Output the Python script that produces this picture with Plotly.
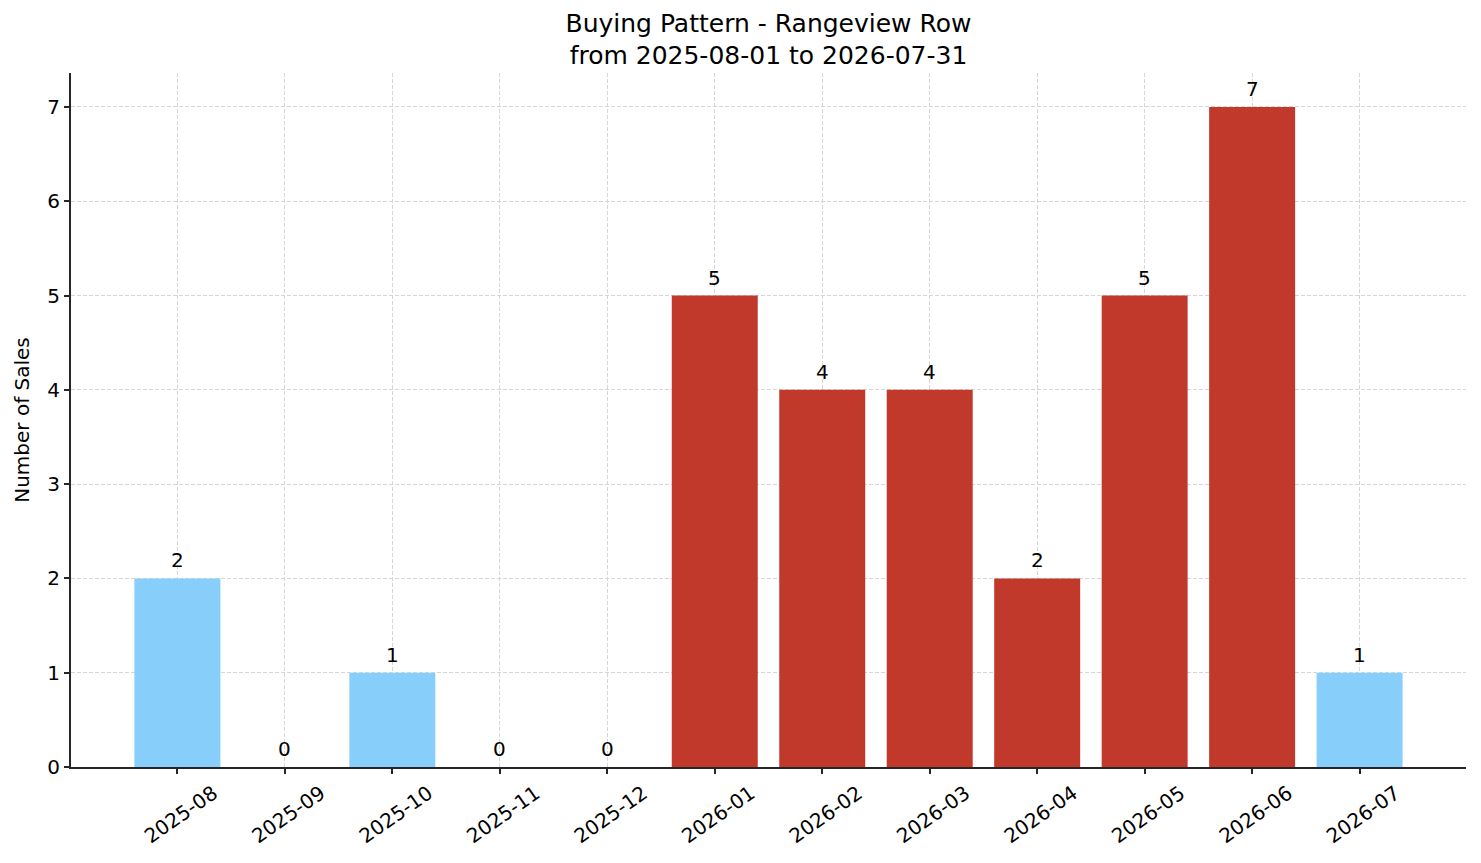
import plotly.graph_objects as go

# Monthly sales counts
months = ["2025-08", "2025-09", "2025-10", "2025-11", "2025-12", "2026-01",
          "2026-02", "2026-03", "2026-04", "2026-05", "2026-06", "2026-07"]
sales = [2, 0, 1, 0, 0, 5, 4, 4, 2, 5, 7, 1]
bar_colors = ["#87CEFA", "#87CEFA", "#87CEFA", "#87CEFA", "#87CEFA", "#C0392B",
              "#C0392B", "#C0392B", "#C0392B", "#C0392B", "#C0392B", "#87CEFA"]

FONT = "DejaVu Sans"
INK = "#262626"
GRID = "#d6d6d6"

fig = go.Figure()
fig.add_trace(go.Bar(x=months, y=sales, marker=dict(color=bar_colors, line=dict(width=0)),
                     width=0.8, showlegend=False, hoverinfo="x+y"))

# value labels above each bar (also for the zero months)
for m, v in zip(months, sales):
    fig.add_annotation(x=m, y=v, text=str(v), showarrow=False,
                       xanchor="center", yanchor="bottom", yshift=4,
                       font=dict(family=FONT, size=20, color="black"))

fig.update_layout(
    width=1481, height=863,
    margin=dict(l=71, r=15, t=73, b=96),
    paper_bgcolor="white", plot_bgcolor="white",
    font=dict(family=FONT, size=20, color="black"),
    title=dict(text="Buying Pattern - Rangeview Row<br>from 2025-08-01 to 2026-07-31",
               x=0.5189, xanchor="center", y=0.963, yanchor="middle",
               font=dict(family=FONT, size=25, color="black")),
    bargap=0.2,
)
fig.update_xaxes(
    type="category", range=[-0.99, 11.99],
    showline=True, linecolor=INK, linewidth=1.8, mirror=False,
    ticks="outside", ticklen=5, tickwidth=1.5, tickcolor=INK,
    tickangle=-35, ticklabelshift=36,
    tickfont=dict(family=FONT, size=20, color="black"),
    showgrid=True, gridcolor=GRID, griddash="4px,2px", gridwidth=0.8,
)
fig.update_yaxes(
    range=[0, 7.36], dtick=1, zeroline=False,
    showline=True, linecolor=INK, linewidth=1.8, mirror=False,
    ticks="outside", ticklen=5, tickwidth=1.5, tickcolor=INK,
    tickfont=dict(family=FONT, size=20, color="black"),
    showgrid=True, gridcolor=GRID, griddash="4px,2px", gridwidth=0.8,
    title=dict(text="Number of Sales", font=dict(family=FONT, size=20, color="black"), standoff=12),
)

# drop the default page margin so the figure sits at the window origin
fig.write_html("out.html", config={"displayModeBar": False},
               post_script="document.body.style.margin='0';")
